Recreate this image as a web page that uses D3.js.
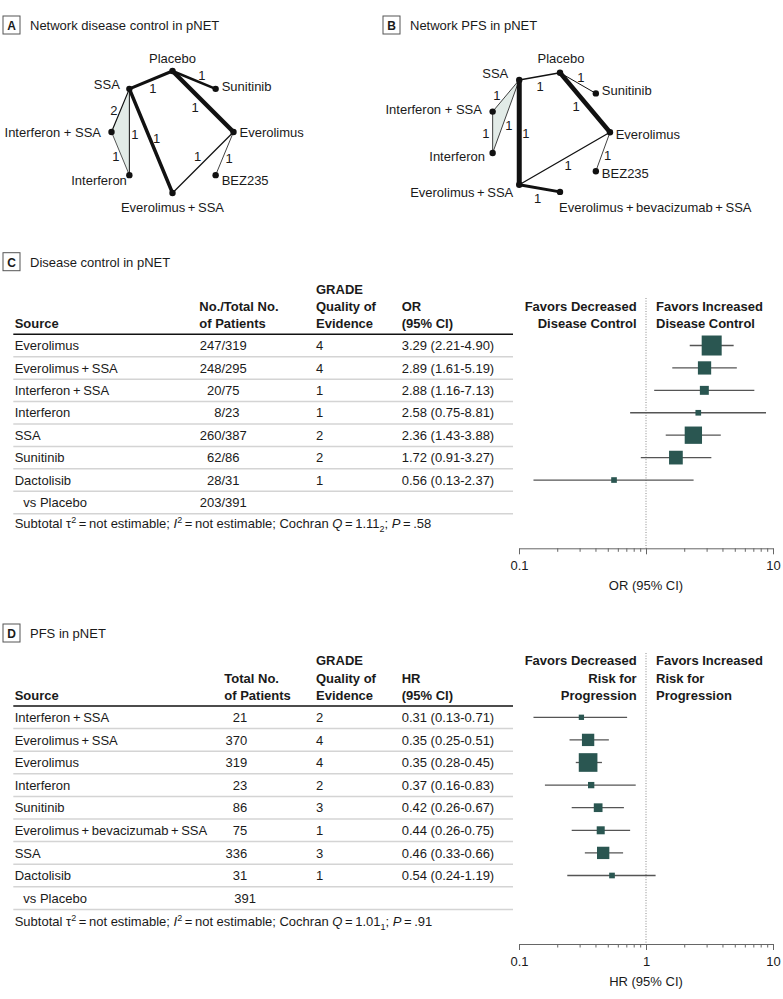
<!DOCTYPE html>
<html><head><meta charset="utf-8">
<script src="https://cdn.jsdelivr.net/npm/d3@7/dist/d3.min.js"></script>
<style>
body{margin:0;background:#fff;}
svg{font-family:"Liberation Sans",Arial,sans-serif;}
</style></head><body>
<svg id="c" width="783" height="999"></svg>
<script>
// ================= DATA =================
// Network A: disease control (nodes in angular order, starting at 3 o'clock, clockwise)
const netNodesA = ["Everolimus","BEZ235","Everolimus\u2009+\u2009SSA","Interferon","Interferon + SSA","SSA","Placebo","Sunitinib"];
// [from, to, number of studies, edge weight]
const netEdgesA = [
  ["Placebo","SSA",1,3],
  ["Placebo","Sunitinib",1,2.5],
  ["Placebo","Everolimus",1,4.5],
  ["SSA","Interferon + SSA",2,1.2],
  ["SSA","Interferon",1,1],
  ["SSA","Everolimus\u2009+\u2009SSA",1,3.5],
  ["Interferon + SSA","Interferon",1,0.7],
  ["Everolimus","Everolimus\u2009+\u2009SSA",1,1.3],
  ["Everolimus","BEZ235",1,0.8]
];
const netLoopA = ["SSA","Interferon + SSA","Interferon"];

// Network B: PFS
const netNodesB = ["Everolimus","BEZ235","Everolimus\u2009+\u2009bevacizumab\u2009+\u2009SSA","Everolimus\u2009+\u2009SSA","Interferon","Interferon + SSA","SSA","Placebo","Sunitinib"];
const netEdgesB = [
  ["SSA","Placebo",1,1.5],
  ["Placebo","Sunitinib",1,1],
  ["Placebo","Everolimus",1,4.5],
  ["SSA","Interferon + SSA",1,0.8],
  ["SSA","Interferon",1,0.8],
  ["Interferon + SSA","Interferon",1,0.8],
  ["SSA","Everolimus\u2009+\u2009SSA",1,5],
  ["Everolimus","Everolimus\u2009+\u2009SSA",1,1.3],
  ["Everolimus","BEZ235",1,0.8],
  ["Everolimus\u2009+\u2009SSA","Everolimus\u2009+\u2009bevacizumab\u2009+\u2009SSA",1,3]
];
const netLoopB = ["SSA","Interferon + SSA","Interferon"];

// Panel C: disease control
const dcSource = ["Everolimus","Everolimus\u2009+\u2009SSA","Interferon\u2009+\u2009SSA","Interferon","SSA","Sunitinib","Dactolisib"];
const dcEvents = [247,248,20,8,260,62,28];
const dcTotal  = [319,295,75,23,387,86,31];
const dcGrade  = [4,4,1,1,2,2,1];
const dcEst    = [3.29,2.89,2.88,2.58,2.36,1.72,0.56];
const dcLo     = [2.21,1.61,1.16,0.75,1.43,0.91,0.13];
const dcHi     = [4.90,5.19,7.13,8.81,3.88,3.27,2.37];
const dcWeight = [100,44,20,8,75,47,8];
const dcRefLabel = "vs Placebo";
const dcRefEvents = 203, dcRefTotal = 391;
const dcTickVals = [0.1,1,10];
const dcTickLabels = ["0.1","","10"];

// Panel D: PFS
const pfsSource = ["Interferon\u2009+\u2009SSA","Everolimus\u2009+\u2009SSA","Everolimus","Interferon","Sunitinib","Everolimus\u2009+\u2009bevacizumab\u2009+\u2009SSA","SSA","Dactolisib"];
const pfsTotal  = [21,370,319,23,86,75,336,31];
const pfsGrade  = [2,4,4,2,3,1,3,1];
const pfsEst    = [0.31,0.35,0.35,0.37,0.42,0.44,0.46,0.54];
const pfsLo     = [0.13,0.25,0.28,0.16,0.26,0.26,0.33,0.24];
const pfsHi     = [0.71,0.51,0.45,0.83,0.67,0.75,0.66,1.19];
const pfsWeight = [7,38,87,10,19,16,38,8];
const pfsRefLabel = "vs Placebo";
const pfsRefTotal = 391;
const pfsTickVals = [0.1,1,10];
const pfsTickLabels = ["0.1","1","10"];
const minorTickVals = [0.2,0.3,0.4,0.5,0.6,0.7,0.8,0.9,2,3,4,5,6,7,8,9];

// ================= LAYOUT / STYLE =================
const INK = "#1a1a1a";
const TEAL = "#2a5651";
const FS = 13;
const svg = d3.select("#c");

function panelLabel(x, y, letter, title) {
  svg.append("rect").attr("x", x).attr("y", y - 14).attr("width", 17).attr("height", 18)
    .attr("fill", "none").attr("stroke", "#555").attr("stroke-width", 1);
  svg.append("text").attr("x", x + 8.5).attr("y", y).attr("text-anchor", "middle")
    .attr("font-weight", "bold").attr("font-size", 12).attr("fill", INK).text(letter);
  svg.append("text").attr("x", x + 27).attr("y", y).attr("font-size", FS).attr("fill", INK).text(title);
}

// node label placement: anchor, dx, dy (relative to node)
const labelPosA = {
  "Everolimus": ["start", 6, 5],
  "BEZ235": ["start", 6, 9.5],
  "Everolimus\u2009+\u2009SSA": ["middle", 0, 19],
  "Interferon": ["end", -2.5, 9.5],
  "Interferon + SSA": ["end", -10.5, 5],
  "SSA": ["end", -9.5, 0.5],
  "Placebo": ["middle", 0, -8.5],
  "Sunitinib": ["start", 6, 2]
};
const edgeLabelOffA = [[2,8.8],[7.7,-5],[-8,5.8],[-6.5,-0.5],[5.6,2],[5.7,-3],[-4.5,2.5],[-5.3,-5.8],[4.5,4.5]];

const labelPosB = {
  "Everolimus": ["start", 5.7, 6.7],
  "BEZ235": ["start", 6, 7],
  "Everolimus\u2009+\u2009bevacizumab\u2009+\u2009SSA": ["start", -1, 19.7],
  "Everolimus\u2009+\u2009SSA": ["end", -6, 12],
  "Interferon": ["end", -7.7, 7.7],
  "Interferon + SSA": ["end", -10.7, 2.5],
  "SSA": ["end", -11, -2],
  "Placebo": ["middle", 1, -10],
  "Sunitinib": ["start", 6, 1.6]
};
const edgeLabelOffB = [[0.4,9.7],[3,-6],[-9,4],[-9,-0.7],[3,8.5],[-6.7,0.7],[6.5,0.7],[3.4,6.5],[4.8,3.3],[-2,9.7]];

function drawNetwork(nodes, edges, loop, cx, cy, r, labelPos, edgeOff) {
  const ang = d3.scaleLinear().domain([0, nodes.length]).range([0, 2 * Math.PI]);
  const pos = {};
  nodes.forEach((name, i) => { pos[name] = [cx + r * Math.cos(ang(i)), cy + r * Math.sin(ang(i))]; });
  const wScale = d3.scaleLinear().domain([0, 5]).range([0, 5]);
  const g = svg.append("g");
  g.append("polygon").attr("points", loop.map(t => pos[t].join(",")).join(" "))
    .attr("fill", "#e2ebe7").attr("stroke", "none");
  g.selectAll("line.edge").data(edges).join("line").attr("class", "edge")
    .attr("x1", d => pos[d[0]][0]).attr("y1", d => pos[d[0]][1])
    .attr("x2", d => pos[d[1]][0]).attr("y2", d => pos[d[1]][1])
    .attr("stroke", "#111").attr("stroke-width", d => wScale(d[3])).attr("stroke-linecap", "round");
  g.selectAll("text.elab").data(edges).join("text").attr("class", "elab")
    .attr("x", (d, i) => (pos[d[0]][0] + pos[d[1]][0]) / 2 + edgeOff[i][0])
    .attr("y", (d, i) => (pos[d[0]][1] + pos[d[1]][1]) / 2 + edgeOff[i][1] + 4.6)
    .attr("text-anchor", "middle").attr("font-size", FS).attr("fill", INK).text(d => d[2]);
  g.selectAll("circle").data(nodes).join("circle")
    .attr("cx", d => pos[d][0]).attr("cy", d => pos[d][1]).attr("r", 3.2).attr("fill", "#111");
  g.selectAll("text.nlab").data(nodes).join("text").attr("class", "nlab")
    .attr("x", d => pos[d][0] + labelPos[d][1]).attr("y", d => pos[d][1] + labelPos[d][2])
    .attr("text-anchor", d => labelPos[d][0]).attr("font-size", FS).attr("fill", INK).text(d => d);
}

panelLabel(3, 30, "A", "Network disease control in pNET");
panelLabel(383, 30, "B", "Network PFS in pNET");
drawNetwork(netNodesA, netEdgesA, netLoopA, 172.5, 132, 61, labelPosA, edgeLabelOffA);
drawNetwork(netNodesB, netEdgesB, netLoopB, 549.5, 132.3, 60.5, labelPosB, edgeLabelOffB);

// ================= FOREST PLOTS =================
const x = d3.scaleLog().domain([0.1, 10]).range([519, 773]);
const boxSize = d3.scaleSqrt().domain([0, 100]).range([0, 20]);

function multiLine(lines, xPos, bottomBaseline, anchor, bold) {
  lines.forEach((t, i) => {
    svg.append("text").attr("x", xPos).attr("y", bottomBaseline - (lines.length - 1 - i) * 17.4)
      .attr("text-anchor", anchor).attr("font-size", FS).attr("font-weight", bold ? "bold" : "normal")
      .attr("fill", INK).text(t);
  });
}

function subtotal(y, q, qdf, p) {
  const t = svg.append("text").attr("x", 14.7).attr("y", y).attr("font-size", FS).attr("fill", INK);
  t.append("tspan").text("Subtotal \u03C4");
  t.append("tspan").attr("font-size", 9).attr("dy", -5).text("2");
  t.append("tspan").attr("dy", 5).text("\u2009=\u2009not estimable; ");
  t.append("tspan").attr("font-style", "italic").text("I");
  t.append("tspan").attr("font-size", 9).attr("dy", -5).text("2");
  t.append("tspan").attr("dy", 5).text("\u2009=\u2009not estimable; Cochran ");
  t.append("tspan").attr("font-style", "italic").text("Q");
  t.append("tspan").text("\u2009=\u2009" + q);
  t.append("tspan").attr("font-size", 9).attr("dy", 3.5).text(qdf);
  t.append("tspan").attr("dy", -3.5).text("; ");
  t.append("tspan").attr("font-style", "italic").text("P");
  t.append("tspan").text("\u2009=\u2009" + p);
}

function forest(opt) {
  const n = opt.source.length + 1;
  const y = d3.scaleBand().domain(d3.range(n)).range([opt.top, opt.top + opt.rowH * n]);
  // header
  opt.headers.forEach(h => multiLine(h.lines, h.x, opt.headBase, "start", true));
  svg.append("line").attr("x1", 13.3).attr("x2", 513).attr("y1", opt.top).attr("y2", opt.top)
    .attr("stroke", "#111").attr("stroke-width", 1.5);
  // row separators
  svg.selectAll(null).data(d3.range(n)).join("line")
    .attr("x1", 13.3).attr("x2", 513)
    .attr("y1", d => y(d) + y.bandwidth()).attr("y2", d => y(d) + y.bandwidth())
    .attr("stroke", "#d4d4d4").attr("stroke-width", 1.5);
  const base = i => y(i) + y.bandwidth() / 2 + 4.6;
  const rows = d3.range(opt.source.length);
  const txt = (xx, anchor, f) => svg.selectAll(null).data(rows).join("text")
    .attr("x", xx).attr("y", d => base(d)).attr("text-anchor", anchor)
    .attr("font-size", FS).attr("fill", INK).text(f);
  txt(14.7, "start", d => opt.source[d]);
  opt.countCells(txt);
  txt(316, "start", d => opt.grade[d]);
  txt(401.7, "start", d => `${opt.est[d].toFixed(2)} (${opt.lo[d].toFixed(2)}-${opt.hi[d].toFixed(2)})`);
  // reference row
  const ri = opt.source.length;
  svg.append("text").attr("x", 23.3).attr("y", base(ri)).attr("font-size", FS).attr("fill", INK).text(opt.refLabel);
  opt.refCell(base(ri));
  subtotal(opt.subY, opt.q, opt.qdf, opt.p);

  // favors labels
  multiLine(opt.favLeft, 636.7, opt.headBase, "end", true);
  multiLine(opt.favRight, 656, opt.headBase, "start", true);

  // null line
  svg.append("line").attr("x1", x(1)).attr("x2", x(1)).attr("y1", opt.dotTop).attr("y2", opt.axisY)
    .attr("stroke", "#8a8a8a").attr("stroke-width", 1).attr("stroke-dasharray", "1,1.6");

  // CIs and boxes
  svg.selectAll(null).data(rows).join("line")
    .attr("x1", d => x(opt.lo[d])).attr("x2", d => x(opt.hi[d]))
    .attr("y1", d => y(d) + y.bandwidth() / 2).attr("y2", d => y(d) + y.bandwidth() / 2)
    .attr("stroke", "#555").attr("stroke-width", 1.3);
  svg.selectAll(null).data(rows).join("rect")
    .attr("x", d => x(opt.est[d]) - boxSize(opt.weight[d]) / 2)
    .attr("y", d => y(d) + y.bandwidth() / 2 - boxSize(opt.weight[d]) / 2)
    .attr("width", d => boxSize(opt.weight[d])).attr("height", d => boxSize(opt.weight[d]))
    .attr("fill", TEAL);

  // axis
  const gMinor = svg.append("g").attr("transform", `translate(0,${opt.axisY})`)
    .call(d3.axisBottom(x).tickValues(minorTickVals).tickFormat("").tickSize(3.5).tickSizeOuter(0));
  gMinor.select(".domain").remove();
  const gMajor = svg.append("g").attr("transform", `translate(0,${opt.axisY})`)
    .call(d3.axisBottom(x).tickValues(opt.tickVals).tickFormat((d, i) => opt.tickLabels[i])
      .tickSize(6).tickSizeOuter(0).tickPadding(6.5));
  [gMinor, gMajor].forEach(g => {
    g.selectAll("line").attr("stroke", "#666");
    g.select(".domain").attr("stroke", "#666");
  });
  gMajor.selectAll("text").attr("font-size", FS).attr("font-family", "'Liberation Sans',Arial,sans-serif").attr("fill", INK);
  svg.append("text").attr("x", x(1)).attr("y", opt.axisY + 41.7).attr("text-anchor", "middle")
    .attr("font-size", FS).attr("fill", INK).text(opt.axisTitle);
}

panelLabel(3, 266.7, "C", "Disease control in pNET");
forest({
  source: dcSource, grade: dcGrade, est: dcEst, lo: dcLo, hi: dcHi, weight: dcWeight,
  top: 334.3, rowH: 22.42, headBase: 328.3,
  headers: [
    {x: 14.7, lines: ["Source"]},
    {x: 199.3, lines: ["No./Total No.", "of Patients"]},
    {x: 316, lines: ["GRADE", "Quality of", "Evidence"]},
    {x: 401.7, lines: ["OR", "(95% CI)"]}
  ],
  countCells: txt => { txt(221.5, "end", d => dcEvents[d]); txt(221.5, "start", d => "/" + dcTotal[d]); },
  refLabel: dcRefLabel,
  refCell: yy => {
    svg.append("text").attr("x", 221.5).attr("y", yy).attr("text-anchor", "end").attr("font-size", FS).attr("fill", INK).text(dcRefEvents);
    svg.append("text").attr("x", 221.5).attr("y", yy).attr("font-size", FS).attr("fill", INK).text("/" + dcRefTotal);
  },
  subY: 528.3, q: "1.11", qdf: "2", p: ".58",
  favLeft: ["Favors Decreased", "Disease Control"], favRight: ["Favors Increased", "Disease Control"],
  dotTop: 298, axisY: 548.3, tickVals: dcTickVals, tickLabels: dcTickLabels, axisTitle: "OR (95% CI)"
});

panelLabel(3, 638, "D", "PFS in pNET");
forest({
  source: pfsSource, grade: pfsGrade, est: pfsEst, lo: pfsLo, hi: pfsHi, weight: pfsWeight,
  top: 706, rowH: 22.6, headBase: 700,
  headers: [
    {x: 14.7, lines: ["Source"]},
    {x: 224.3, lines: ["Total No.", "of Patients"]},
    {x: 316, lines: ["GRADE", "Quality of", "Evidence"]},
    {x: 401.7, lines: ["HR", "(95% CI)"]}
  ],
  countCells: txt => { txt(247.3, "end", d => pfsTotal[d]); },
  refLabel: pfsRefLabel,
  refCell: yy => {
    svg.append("text").attr("x", 256).attr("y", yy).attr("text-anchor", "end").attr("font-size", FS).attr("fill", INK).text(pfsRefTotal);
  },
  subY: 926, q: "1.01", qdf: "1", p: ".91",
  favLeft: ["Favors Decreased", "Risk for", "Progression"], favRight: ["Favors Increased", "Risk for", "Progression"],
  dotTop: 653, axisY: 944, tickVals: pfsTickVals, tickLabels: pfsTickLabels, axisTitle: "HR (95% CI)"
});
</script>
</body></html>
